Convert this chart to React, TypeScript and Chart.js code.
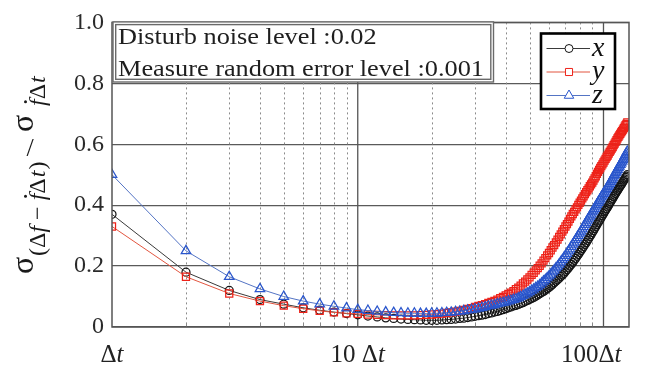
import React, { useEffect, useRef } from 'react';
import { Chart, registerables } from 'chart.js';

Chart.register(...registerables);

// ---------- data ----------
const STEPS = [
  1, 2, 3, 4, 5, 6, 7, 8, 9, 10, 11, 12, 13, 14, 15, 16, 17, 18, 19, 20,
  21, 22, 23, 24, 25, 26, 27, 28, 29, 30, 31, 32, 33, 34, 35, 36, 37, 38, 39, 40,
  41, 42, 43, 44, 45, 46, 47, 48, 49, 50, 51, 52, 53, 54, 55, 56, 57, 58, 59, 60,
  61, 62, 63, 64, 65, 66, 67, 68, 69, 70, 71, 72, 73, 74, 75, 76, 77, 78, 79, 80,
  81, 82, 83, 84, 85, 86, 87, 88, 89, 90, 91, 92, 93, 94, 95, 96, 97, 98, 99, 100,
  101, 102, 103, 104, 105, 106, 107, 108, 109, 110, 111, 112, 113, 114, 115, 116, 117, 118, 119, 120,
  121, 122, 123, 124, 125,
];

const SERIES_X = [
  0.370, 0.180, 0.120, 0.090, 0.075, 0.063, 0.055, 0.049, 0.044, 0.040,
  0.036, 0.033, 0.030, 0.028, 0.026, 0.025, 0.024, 0.023, 0.022, 0.022,
  0.022, 0.023, 0.024, 0.025, 0.026, 0.028, 0.029, 0.031, 0.033, 0.035,
  0.037, 0.039, 0.041, 0.044, 0.046, 0.049, 0.051, 0.054, 0.057, 0.060,
  0.063, 0.066, 0.069, 0.071, 0.074, 0.077, 0.080, 0.084, 0.087, 0.090,
  0.094, 0.097, 0.101, 0.105, 0.109, 0.113, 0.117, 0.121, 0.126, 0.130,
  0.135, 0.140, 0.145, 0.150, 0.155, 0.160, 0.166, 0.171, 0.176, 0.182,
  0.188, 0.194, 0.200, 0.206, 0.212, 0.219, 0.225, 0.232, 0.238, 0.245,
  0.251, 0.258, 0.264, 0.271, 0.277, 0.284, 0.290, 0.297, 0.303, 0.310,
  0.316, 0.323, 0.329, 0.336, 0.342, 0.348, 0.354, 0.360, 0.366, 0.372,
  0.378, 0.383, 0.389, 0.394, 0.400, 0.406, 0.411, 0.417, 0.422, 0.428,
  0.433, 0.438, 0.443, 0.448, 0.453, 0.458, 0.463, 0.467, 0.472, 0.477,
  0.482, 0.486, 0.491, 0.495, 0.500,
];

const SERIES_Y = [
  0.330, 0.165, 0.110, 0.085, 0.070, 0.060, 0.053, 0.048, 0.045, 0.043,
  0.041, 0.040, 0.039, 0.038, 0.038, 0.038, 0.038, 0.039, 0.040, 0.041,
  0.042, 0.044, 0.046, 0.048, 0.050, 0.053, 0.056, 0.059, 0.062, 0.066,
  0.069, 0.072, 0.075, 0.079, 0.082, 0.086, 0.090, 0.095, 0.099, 0.104,
  0.109, 0.113, 0.118, 0.124, 0.129, 0.136, 0.143, 0.149, 0.156, 0.163,
  0.171, 0.178, 0.186, 0.193, 0.201, 0.209, 0.218, 0.226, 0.235, 0.243,
  0.252, 0.261, 0.269, 0.278, 0.287, 0.296, 0.304, 0.313, 0.321, 0.330,
  0.338, 0.346, 0.355, 0.363, 0.371, 0.378, 0.386, 0.393, 0.401, 0.408,
  0.415, 0.422, 0.429, 0.436, 0.443, 0.449, 0.455, 0.462, 0.468, 0.474,
  0.481, 0.488, 0.495, 0.503, 0.509, 0.516, 0.522, 0.528, 0.534, 0.540,
  0.546, 0.552, 0.558, 0.563, 0.569, 0.575, 0.580, 0.586, 0.591, 0.597,
  0.602, 0.608, 0.613, 0.619, 0.624, 0.629, 0.634, 0.639, 0.643, 0.648,
  0.653, 0.658, 0.663, 0.667, 0.672,
];

const SERIES_Z = [
  0.500, 0.250, 0.165, 0.125, 0.100, 0.085, 0.075, 0.068, 0.062, 0.057,
  0.054, 0.051, 0.049, 0.047, 0.046, 0.045, 0.045, 0.044, 0.044, 0.045,
  0.045, 0.046, 0.047, 0.048, 0.050, 0.051, 0.053, 0.055, 0.057, 0.059,
  0.061, 0.064, 0.066, 0.069, 0.071, 0.073, 0.076, 0.078, 0.080, 0.082,
  0.085, 0.087, 0.090, 0.092, 0.095, 0.099, 0.103, 0.107, 0.111, 0.115,
  0.120, 0.124, 0.129, 0.133, 0.138, 0.144, 0.150, 0.155, 0.161, 0.167,
  0.173, 0.180, 0.186, 0.193, 0.199, 0.206, 0.213, 0.220, 0.227, 0.234,
  0.241, 0.249, 0.256, 0.264, 0.271, 0.278, 0.286, 0.293, 0.300, 0.307,
  0.314, 0.321, 0.329, 0.336, 0.343, 0.350, 0.357, 0.363, 0.370, 0.377,
  0.383, 0.389, 0.396, 0.402, 0.408, 0.414, 0.420, 0.426, 0.432, 0.438,
  0.443, 0.449, 0.454, 0.460, 0.465, 0.471, 0.477, 0.483, 0.489, 0.495,
  0.500, 0.506, 0.511, 0.517, 0.522, 0.527, 0.533, 0.538, 0.544, 0.549,
  0.554, 0.560, 0.565, 0.571, 0.576,
];

const SERIES_NAMES = ['x', 'y', 'z'];
const Y_TICKS = [0, 0.2, 0.4, 0.6, 0.8, 1.0];
const Y_TICK_LABELS = ['0', '0.2', '0.4', '0.6', '0.8', '1.0'];
const X_MINOR_GRID = [2, 3, 4, 5, 6, 7, 8, 9, 20, 30, 40, 50, 60, 70, 80, 90];
const X_MAJOR_GRID = [10, 100];
const X_TICK_VALUES = [1, 10, 100];
const X_TICK_LABELS = ['Δt', '10 Δt', '100Δt'];
const INFO_LINES = ['Disturb noise level :0.02', 'Measure random error level :0.001'];

// ---------- styles ----------
const SERIF = '"Liberation Serif", "Times New Roman", serif';
const STYLES = [
  { line: '#3a3a3a', point: '#141414', style: 'circle', radius: 4 },
  { line: '#e2553f', point: '#ee2219', style: 'rect', radius: 5 },
  { line: '#5474c4', point: '#2a56cc', style: 'triangle', radius: 5.5 },
];

function drawMarker(ctx: CanvasRenderingContext2D, style: string, x: number, y: number, r: number, color: string) {
  ctx.save();
  ctx.strokeStyle = color;
  ctx.fillStyle = '#fff';
  ctx.lineWidth = 1;
  ctx.beginPath();
  if (style === 'circle') {
    ctx.arc(x, y, r, 0, Math.PI * 2);
  } else if (style === 'rect') {
    const s = r * Math.SQRT1_2;
    ctx.rect(x - s, y - s, 2 * s, 2 * s);
  } else {
    const h = r * 1.5;
    ctx.moveTo(x, y - r);
    ctx.lineTo(x + r * 0.866, y - r + h);
    ctx.lineTo(x - r * 0.866, y - r + h);
    ctx.closePath();
  }
  ctx.fill();
  ctx.stroke();
  ctx.restore();
}

function drawYTitle(ctx: CanvasRenderingContext2D) {
  const big = `32px ${SERIF}`;
  const sub = `24px ${SERIF}`;
  const subI = `italic 24px ${SERIF}`;
  const SUB = 12;
  type Seg = { t: string; f: string; dy: number; dot?: boolean; gap?: number };
  // groups placed along the rotated baseline; start = screen y where the group begins
  const groups: { start: number; segs: Seg[] }[] = [
    { start: 274, segs: [{ t: 'σ', f: big, dy: 0 }] },
    {
      start: 256,
      segs: [
        { t: '(', f: sub, dy: SUB },
        { t: 'Δ', f: sub, dy: SUB },
        { t: 'f', f: subI, dy: SUB },
        { t: ' − ', f: sub, dy: SUB },
        { t: 'f', f: subI, dy: SUB, dot: true },
        { t: 'Δ', f: sub, dy: SUB },
        { t: 't', f: subI, dy: SUB, gap: 1 },
        { t: ')', f: sub, dy: SUB, gap: 1 },
      ],
    },
    { start: 132, segs: [{ t: 'σ', f: big, dy: 0 }] },
    {
      start: 106,
      segs: [
        { t: 'f', f: subI, dy: SUB, dot: true },
        { t: 'Δ', f: sub, dy: SUB },
        { t: 't', f: subI, dy: SUB, gap: 1 },
      ],
    },
  ];
  ctx.save();
  ctx.fillStyle = '#1a1a1a';
  ctx.textAlign = 'left';
  ctx.textBaseline = 'alphabetic';
  groups.forEach((g) => {
    ctx.save();
    ctx.translate(33, g.start);
    ctx.rotate(-Math.PI / 2);
    let pos = 0;
    g.segs.forEach((s) => {
      pos += s.gap || 0;
      ctx.font = s.f;
      ctx.fillText(s.t, pos, s.dy);
      const w = ctx.measureText(s.t).width;
      if (s.dot) {
        ctx.beginPath();
        ctx.arc(pos + w * 0.62, s.dy - 19.5, 1.5, 0, Math.PI * 2);
        ctx.fill();
      }
      pos += w;
    });
    ctx.restore();
  });
  // the slash between numerator and denominator
  ctx.font = `26px ${SERIF}`;
  ctx.textAlign = 'center';
  ctx.fillText('/', 30, 156);
  ctx.restore();
}

const decorPlugin = {
  id: 'decor',
  beforeDatasetsDraw(chart: any) {
    const { ctx, chartArea: a } = chart;
    const xs = chart.scales.x;
    ctx.save();
    ctx.strokeStyle = '#8a8a8a';
    ctx.lineWidth = 1;
    ctx.setLineDash([2, 3]);
    X_MINOR_GRID.forEach((v) => {
      const px = Math.round(xs.getPixelForValue(v)) + 0.5;
      ctx.beginPath();
      ctx.moveTo(px, a.top);
      ctx.lineTo(px, a.bottom);
      ctx.stroke();
    });
    ctx.setLineDash([]);
    X_MINOR_GRID.forEach((v) => {
      const px = Math.round(xs.getPixelForValue(v)) + 0.5;
      ctx.beginPath();
      ctx.moveTo(px, a.bottom);
      ctx.lineTo(px, a.bottom - 4);
      ctx.stroke();
    });
    ctx.strokeStyle = '#555';
    ctx.lineWidth = 1.3;
    X_MAJOR_GRID.forEach((v) => {
      const px = xs.getPixelForValue(v);
      ctx.beginPath();
      ctx.moveTo(px, a.top);
      ctx.lineTo(px, a.bottom);
      ctx.stroke();
    });
    ctx.restore();
  },
  afterDraw(chart: any) {
    const { ctx, chartArea: a } = chart;
    const xs = chart.scales.x;
    ctx.save();
    ctx.strokeStyle = '#555';
    ctx.lineWidth = 1.5;
    ctx.strokeRect(a.left, a.top, a.right - a.left, a.bottom - a.top);

    // info box (double border)
    const bx0 = a.left + 1, by0 = a.top - 0.5, bx1 = 493.5, by1 = 82;
    ctx.fillStyle = '#fff';
    ctx.fillRect(bx0, by0, bx1 - bx0, by1 - by0);
    ctx.strokeStyle = '#6a6a6a';
    ctx.lineWidth = 1.4;
    ctx.strokeRect(bx0, by0, bx1 - bx0, by1 - by0);
    ctx.strokeRect(bx0 + 2.7, by0 + 2.7, bx1 - bx0 - 5.4, by1 - by0 - 5.4);
    ctx.fillStyle = '#1e1e1e';
    ctx.font = `24px ${SERIF}`;
    ctx.textAlign = 'left';
    ctx.textBaseline = 'alphabetic';
    const w2 = ctx.measureText(INFO_LINES[1]).width;
    const sx = 366 / w2;
    [43.5, 75.5].forEach((yb, i) => {
      ctx.save();
      ctx.translate(118, yb);
      ctx.scale(sx, 1);
      ctx.fillText(INFO_LINES[i], 0, 0);
      ctx.restore();
    });

    // legend
    const lx0 = 541, ly0 = 33.5, lx1 = 615, ly1 = 109;
    ctx.fillStyle = '#fff';
    ctx.fillRect(lx0, ly0, lx1 - lx0, ly1 - ly0);
    ctx.strokeStyle = '#000';
    ctx.lineWidth = 2.6;
    ctx.strokeRect(lx0, ly0, lx1 - lx0, ly1 - ly0);
    const rows = [48.5, 72, 95.5];
    SERIES_NAMES.forEach((name, i) => {
      const st = STYLES[i];
      const y = rows[i];
      ctx.strokeStyle = st.line;
      ctx.lineWidth = 1;
      ctx.beginPath();
      ctx.moveTo(546.5, y);
      ctx.lineTo(590, y);
      ctx.stroke();
      drawMarker(ctx, st.style, 569, y, st.radius, st.point);
      ctx.fillStyle = '#111';
      ctx.font = `italic 28px ${SERIF}`;
      ctx.textAlign = 'left';
      ctx.fillText(name, 592, y + 7);
    });

    // x tick labels
    ctx.fillStyle = '#222';
    ctx.textBaseline = 'alphabetic';
    X_TICK_VALUES.forEach((v, i) => {
      const px = xs.getPixelForValue(v);
      const label = X_TICK_LABELS[i];
      const head = label.slice(0, -1);
      ctx.font = `25px ${SERIF}`;
      const wA = ctx.measureText(head).width;
      ctx.font = `italic 25px ${SERIF}`;
      const wT = ctx.measureText('t').width;
      const total = wA + wT;
      let start = px - total / 2;
      if (i === X_TICK_VALUES.length - 1) start = px + 18 - total;
      ctx.textAlign = 'left';
      ctx.font = `25px ${SERIF}`;
      ctx.fillText(head, start, 362);
      ctx.font = `italic 25px ${SERIF}`;
      ctx.fillText('t', start + wA, 362);
    });

    drawYTitle(ctx);
    ctx.restore();
  },
};

export default function App() {
  const ref = useRef<HTMLCanvasElement | null>(null);

  useEffect(() => {
    document.body.style.margin = '0';
    const canvas = ref.current;
    if (!canvas) return;
    const seriesValues = [SERIES_X, SERIES_Y, SERIES_Z];
    const order = [2, 1, 0];
    const chart = new Chart(canvas, {
      type: 'line',
      data: {
        datasets: seriesValues.map((vals, i) => ({
          label: SERIES_NAMES[i],
          data: STEPS.map((s, k) => ({ x: s, y: vals[k] })),
          borderColor: STYLES[i].line,
          borderWidth: 1,
          pointStyle: STYLES[i].style as any,
          pointRadius: STYLES[i].radius,
          pointBorderColor: STYLES[i].point,
          pointBackgroundColor: 'rgba(255,255,255,0)',
          pointBorderWidth: 1.25,
          fill: false,
          tension: 0,
          order: order[i],
        })),
      },
      options: {
        responsive: false,
        animation: false,
        devicePixelRatio: 1,
        layout: { padding: { top: 20, right: 17, left: 0, bottom: 0 } },
        plugins: { legend: { display: false }, tooltip: { enabled: false } },
        scales: {
          x: {
            type: 'logarithmic',
            min: 1,
            max: 127,
            grid: { display: false },
            border: { display: false },
            ticks: { display: false },
            afterFit: (s: any) => {
              s.height = 40;
            },
          },
          y: {
            min: 0,
            max: 1,
            afterBuildTicks: (s: any) => {
              s.ticks = Y_TICKS.map((v) => ({ value: v }));
            },
            ticks: {
              callback: (_v: any, i: number) => Y_TICK_LABELS[i],
              font: { family: SERIF, size: 24 },
              color: '#2a2a2a',
              padding: 8,
            },
            grid: { color: '#5a5a5a', lineWidth: 1.2, drawTicks: false },
            border: { display: false },
            afterFit: (s: any) => {
              s.width = 112;
            },
          },
        },
      },
      plugins: [decorPlugin],
    });
    return () => chart.destroy();
  }, []);

  return (
    <div style={{ position: 'absolute', left: 0, top: 0, width: 646, height: 367, background: '#fff' }}>
      <canvas ref={ref} width={646} height={367} />
    </div>
  );
}
